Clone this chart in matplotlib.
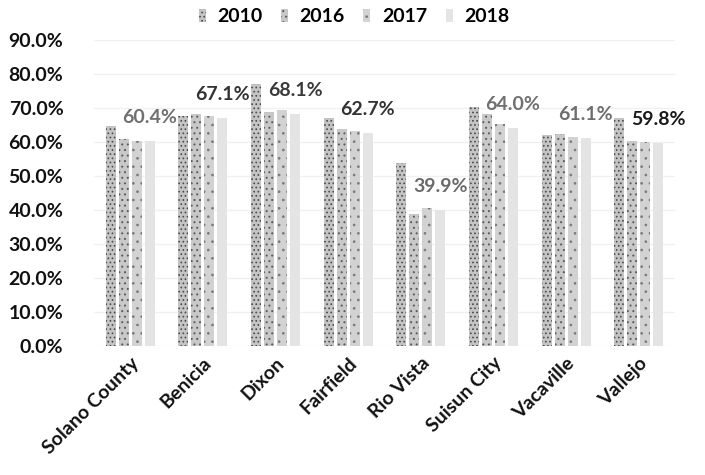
import numpy as np
import matplotlib as mpl
import matplotlib.pyplot as plt
from matplotlib.patches import Patch
from matplotlib.ticker import PercentFormatter

# categories and series
ciudades = ['Solano County', 'Benicia', 'Dixon', 'Fairfield', 'Rio Vista',
            'Suisun City', 'Vacaville', 'Vallejo']
anios = ['2010', '2016', '2017', '2018']
v2010 = [64.8, 67.6, 77.2, 67.2, 53.9, 70.3, 62.0, 67.0]
v2016 = [61.0, 68.2, 68.9, 63.8, 38.8, 68.3, 62.3, 60.3]
v2017 = [60.2, 67.6, 69.5, 63.2, 40.5, 65.3, 61.6, 60.1]
v2018 = [60.4, 67.1, 68.1, 62.7, 39.9, 64.0, 61.1, 59.8]

# estilo
colores = ['#c4c4c4', '#c8c8c8', '#d2d2d2', '#e4e4e4']
tramas = ['....', '...', '..', '']
col_trama = ['#4a4a4a', '#5a5a5a', '#7a7a7a', '#e4e4e4']
col_etiq = ['#707070', '#333333', '#3a3a3a', '#333333',
            '#6a6a6a', '#707070', '#6e6e6e', '#1a1a1a']
fuente = 'Lato'

mpl.rcParams.update({'font.family': fuente, 'font.weight': 'bold',
                     'font.size': 14, 'hatch.linewidth': 0.7})

fig = plt.figure(figsize=(7.05, 4.75), dpi=100)
ax = fig.add_axes([94/705, 129/475, 581/705, 306/475])

x = np.arange(len(ciudades))
ancho = 0.138
paso = 0.179
series = [v2010, v2016, v2017, v2018]
for i, vals in enumerate(series):
    ax.bar(x + (i - 1.5)*paso, np.array(vals)/100., ancho, color=colores[i],
           hatch=tramas[i], edgecolor=col_trama[i], linewidth=0, zorder=2)

# etiquetas de 2018
for j, v in enumerate(v2018):
    ax.annotate('{:.1f}%'.format(v), (x[j] + 1.5*paso, v/100.),
                xytext=(0, 17), textcoords='offset points',
                ha='center', va='center', fontsize=14, fontweight='bold',
                color=col_etiq[j])

ax.set_xlim(-0.5, len(ciudades) - 0.5)
ax.set_ylim(0, 0.9)
ax.set_yticks(np.arange(0, 0.91, 0.1))
ax.yaxis.set_major_formatter(PercentFormatter(1.0, decimals=1))
ax.set_xticks(x)
ax.set_xticklabels(ciudades, rotation=45, ha='right', rotation_mode='anchor')
ax.tick_params(length=0, labelsize=14, labelcolor='#111111')
ax.tick_params(axis='y', pad=22)
ax.tick_params(axis='x', pad=6)
ax.grid(axis='y', color='#f0f0f0', linewidth=1, zorder=0)
for s in ax.spines.values():
    s.set_visible(False)

manejadores = [Patch(facecolor=colores[i], hatch=tramas[i], edgecolor=col_trama[i],
                     linewidth=0) for i in range(4)]
fig.legend(manejadores, anios, loc='center', bbox_to_anchor=(354/705, 1 - 17/475),
           ncol=4, frameon=False, handlelength=0.36, handleheight=0.62,
           handletextpad=0.6, columnspacing=0.95, fontsize=14)

fig.savefig('out.png', dpi=100)
